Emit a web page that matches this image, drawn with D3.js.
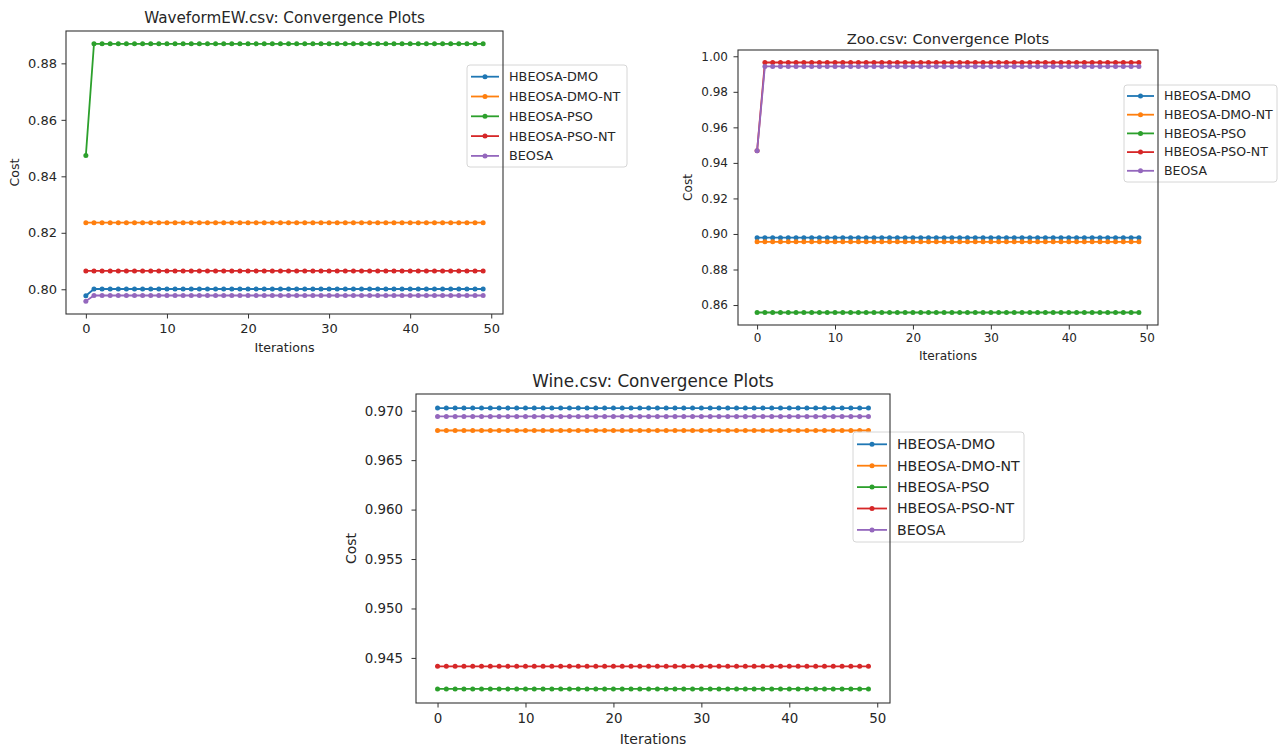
<!DOCTYPE html>
<html>
<head>
<meta charset="utf-8">
<script src="https://cdn.jsdelivr.net/npm/d3@7.9.0/dist/d3.min.js"></script>
<style>
  body { margin: 0; background: #fff; }
  svg text { font-family: "DejaVu Sans", sans-serif; fill: #262626; }
</style>
</head>
<body>
<svg id="chart" width="1284" height="746"></svg>
<script>
// ---- data ----
const seriesNames = ["HBEOSA-DMO", "HBEOSA-DMO-NT", "HBEOSA-PSO", "HBEOSA-PSO-NT", "BEOSA"];
const seriesColors = ["#1f77b4", "#ff7f0e", "#2ca02c", "#d62728", "#9467bd"];

const iterations = [0,1,2,3,4,5,6,7,8,9,10,11,12,13,14,15,16,17,18,19,20,21,22,23,24,
  25,26,27,28,29,30,31,32,33,34,35,36,37,38,39,40,41,42,43,44,45,46,47,48,49];
const xTicks = [0, 10, 20, 30, 40, 50];

// WaveformEW.csv
const waveDmo = [0.7977,0.8001,0.8001,0.8001,0.8001,0.8001,0.8001,0.8001,0.8001,0.8001,
  0.8001,0.8001,0.8001,0.8001,0.8001,0.8001,0.8001,0.8001,0.8001,0.8001,
  0.8001,0.8001,0.8001,0.8001,0.8001,0.8001,0.8001,0.8001,0.8001,0.8001,
  0.8001,0.8001,0.8001,0.8001,0.8001,0.8001,0.8001,0.8001,0.8001,0.8001,
  0.8001,0.8001,0.8001,0.8001,0.8001,0.8001,0.8001,0.8001,0.8001,0.8001];
const waveDmoNt = [0.8236,0.8236,0.8236,0.8236,0.8236,0.8236,0.8236,0.8236,0.8236,0.8236,
  0.8236,0.8236,0.8236,0.8236,0.8236,0.8236,0.8236,0.8236,0.8236,0.8236,
  0.8236,0.8236,0.8236,0.8236,0.8236,0.8236,0.8236,0.8236,0.8236,0.8236,
  0.8236,0.8236,0.8236,0.8236,0.8236,0.8236,0.8236,0.8236,0.8236,0.8236,
  0.8236,0.8236,0.8236,0.8236,0.8236,0.8236,0.8236,0.8236,0.8236,0.8236];
const wavePso = [0.8474,0.8869,0.8869,0.8869,0.8869,0.8869,0.8869,0.8869,0.8869,0.8869,
  0.8869,0.8869,0.8869,0.8869,0.8869,0.8869,0.8869,0.8869,0.8869,0.8869,
  0.8869,0.8869,0.8869,0.8869,0.8869,0.8869,0.8869,0.8869,0.8869,0.8869,
  0.8869,0.8869,0.8869,0.8869,0.8869,0.8869,0.8869,0.8869,0.8869,0.8869,
  0.8869,0.8869,0.8869,0.8869,0.8869,0.8869,0.8869,0.8869,0.8869,0.8869];
const wavePsoNt = [0.8065,0.8065,0.8065,0.8065,0.8065,0.8065,0.8065,0.8065,0.8065,0.8065,
  0.8065,0.8065,0.8065,0.8065,0.8065,0.8065,0.8065,0.8065,0.8065,0.8065,
  0.8065,0.8065,0.8065,0.8065,0.8065,0.8065,0.8065,0.8065,0.8065,0.8065,
  0.8065,0.8065,0.8065,0.8065,0.8065,0.8065,0.8065,0.8065,0.8065,0.8065,
  0.8065,0.8065,0.8065,0.8065,0.8065,0.8065,0.8065,0.8065,0.8065,0.8065];
const waveBeosa = [0.7958,0.7978,0.7978,0.7978,0.7978,0.7978,0.7978,0.7978,0.7978,0.7978,
  0.7978,0.7978,0.7978,0.7978,0.7978,0.7978,0.7978,0.7978,0.7978,0.7978,
  0.7978,0.7978,0.7978,0.7978,0.7978,0.7978,0.7978,0.7978,0.7978,0.7978,
  0.7978,0.7978,0.7978,0.7978,0.7978,0.7978,0.7978,0.7978,0.7978,0.7978,
  0.7978,0.7978,0.7978,0.7978,0.7978,0.7978,0.7978,0.7978,0.7978,0.7978];
const waveYTicks = [0.80, 0.82, 0.84, 0.86, 0.88];

// Zoo.csv
const zooDmo = [0.8979,0.8979,0.8979,0.8979,0.8979,0.8979,0.8979,0.8979,0.8979,0.8979,
  0.8979,0.8979,0.8979,0.8979,0.8979,0.8979,0.8979,0.8979,0.8979,0.8979,
  0.8979,0.8979,0.8979,0.8979,0.8979,0.8979,0.8979,0.8979,0.8979,0.8979,
  0.8979,0.8979,0.8979,0.8979,0.8979,0.8979,0.8979,0.8979,0.8979,0.8979,
  0.8979,0.8979,0.8979,0.8979,0.8979,0.8979,0.8979,0.8979,0.8979,0.8979];
const zooDmoNt = [0.8956,0.8956,0.8956,0.8956,0.8956,0.8956,0.8956,0.8956,0.8956,0.8956,
  0.8956,0.8956,0.8956,0.8956,0.8956,0.8956,0.8956,0.8956,0.8956,0.8956,
  0.8956,0.8956,0.8956,0.8956,0.8956,0.8956,0.8956,0.8956,0.8956,0.8956,
  0.8956,0.8956,0.8956,0.8956,0.8956,0.8956,0.8956,0.8956,0.8956,0.8956,
  0.8956,0.8956,0.8956,0.8956,0.8956,0.8956,0.8956,0.8956,0.8956,0.8956];
const zooPso = [0.8558,0.8558,0.8558,0.8558,0.8558,0.8558,0.8558,0.8558,0.8558,0.8558,
  0.8558,0.8558,0.8558,0.8558,0.8558,0.8558,0.8558,0.8558,0.8558,0.8558,
  0.8558,0.8558,0.8558,0.8558,0.8558,0.8558,0.8558,0.8558,0.8558,0.8558,
  0.8558,0.8558,0.8558,0.8558,0.8558,0.8558,0.8558,0.8558,0.8558,0.8558,
  0.8558,0.8558,0.8558,0.8558,0.8558,0.8558,0.8558,0.8558,0.8558,0.8558];
const zooPsoNt = [0.9468,0.9965,0.9965,0.9965,0.9965,0.9965,0.9965,0.9965,0.9965,0.9965,
  0.9965,0.9965,0.9965,0.9965,0.9965,0.9965,0.9965,0.9965,0.9965,0.9965,
  0.9965,0.9965,0.9965,0.9965,0.9965,0.9965,0.9965,0.9965,0.9965,0.9965,
  0.9965,0.9965,0.9965,0.9965,0.9965,0.9965,0.9965,0.9965,0.9965,0.9965,
  0.9965,0.9965,0.9965,0.9965,0.9965,0.9965,0.9965,0.9965,0.9965,0.9965];
const zooBeosa = [0.9468,0.9943,0.9943,0.9943,0.9943,0.9943,0.9943,0.9943,0.9943,0.9943,
  0.9943,0.9943,0.9943,0.9943,0.9943,0.9943,0.9943,0.9943,0.9943,0.9943,
  0.9943,0.9943,0.9943,0.9943,0.9943,0.9943,0.9943,0.9943,0.9943,0.9943,
  0.9943,0.9943,0.9943,0.9943,0.9943,0.9943,0.9943,0.9943,0.9943,0.9943,
  0.9943,0.9943,0.9943,0.9943,0.9943,0.9943,0.9943,0.9943,0.9943,0.9943];
const zooYTicks = [0.86, 0.88, 0.90, 0.92, 0.94, 0.96, 0.98, 1.00];

// Wine.csv
const wineDmo = [0.97027,0.97027,0.97027,0.97027,0.97027,0.97027,0.97027,0.97027,0.97027,0.97027,
  0.97027,0.97027,0.97027,0.97027,0.97027,0.97027,0.97027,0.97027,0.97027,0.97027,
  0.97027,0.97027,0.97027,0.97027,0.97027,0.97027,0.97027,0.97027,0.97027,0.97027,
  0.97027,0.97027,0.97027,0.97027,0.97027,0.97027,0.97027,0.97027,0.97027,0.97027,
  0.97027,0.97027,0.97027,0.97027,0.97027,0.97027,0.97027,0.97027,0.97027,0.97027];
const wineDmoNt = [0.96800,0.96800,0.96800,0.96800,0.96800,0.96800,0.96800,0.96800,0.96800,0.96800,
  0.96800,0.96800,0.96800,0.96800,0.96800,0.96800,0.96800,0.96800,0.96800,0.96800,
  0.96800,0.96800,0.96800,0.96800,0.96800,0.96800,0.96800,0.96800,0.96800,0.96800,
  0.96800,0.96800,0.96800,0.96800,0.96800,0.96800,0.96800,0.96800,0.96800,0.96800,
  0.96800,0.96800,0.96800,0.96800,0.96800,0.96800,0.96800,0.96800,0.96800,0.96800];
const winePso = [0.94186,0.94186,0.94186,0.94186,0.94186,0.94186,0.94186,0.94186,0.94186,0.94186,
  0.94186,0.94186,0.94186,0.94186,0.94186,0.94186,0.94186,0.94186,0.94186,0.94186,
  0.94186,0.94186,0.94186,0.94186,0.94186,0.94186,0.94186,0.94186,0.94186,0.94186,
  0.94186,0.94186,0.94186,0.94186,0.94186,0.94186,0.94186,0.94186,0.94186,0.94186,
  0.94186,0.94186,0.94186,0.94186,0.94186,0.94186,0.94186,0.94186,0.94186,0.94186];
const winePsoNt = [0.94415,0.94415,0.94415,0.94415,0.94415,0.94415,0.94415,0.94415,0.94415,0.94415,
  0.94415,0.94415,0.94415,0.94415,0.94415,0.94415,0.94415,0.94415,0.94415,0.94415,
  0.94415,0.94415,0.94415,0.94415,0.94415,0.94415,0.94415,0.94415,0.94415,0.94415,
  0.94415,0.94415,0.94415,0.94415,0.94415,0.94415,0.94415,0.94415,0.94415,0.94415,
  0.94415,0.94415,0.94415,0.94415,0.94415,0.94415,0.94415,0.94415,0.94415,0.94415];
const wineBeosa = [0.96942,0.96942,0.96942,0.96942,0.96942,0.96942,0.96942,0.96942,0.96942,0.96942,
  0.96942,0.96942,0.96942,0.96942,0.96942,0.96942,0.96942,0.96942,0.96942,0.96942,
  0.96942,0.96942,0.96942,0.96942,0.96942,0.96942,0.96942,0.96942,0.96942,0.96942,
  0.96942,0.96942,0.96942,0.96942,0.96942,0.96942,0.96942,0.96942,0.96942,0.96942,
  0.96942,0.96942,0.96942,0.96942,0.96942,0.96942,0.96942,0.96942,0.96942,0.96942];
const wineYTicks = [0.945, 0.950, 0.955, 0.960, 0.965, 0.970];

// ---- drawing ----
const svg = d3.select("#chart");

// matplotlib style 5% margins on data extent
function padded(ext) {
  const p = (ext[1] - ext[0]) * 0.05;
  return [ext[0] - p, ext[1] + p];
}

function drawPanel(cfg) {
  const { left, top, right, bottom } = cfg.box;
  const g = svg.append("g").attr("class", "panel");

  const allVals = cfg.series.flat();
  const x = d3.scaleLinear().domain(padded(d3.extent(iterations))).range([left, right]);
  const y = d3.scaleLinear().domain(padded(d3.extent(allVals))).range([bottom, top]);

  // x axis
  const xa = g.append("g")
    .attr("transform", `translate(0,${bottom})`)
    .call(d3.axisBottom(x).tickValues(xTicks).tickFormat(d3.format("d")).tickSize(4.5).tickPadding(cfg.xPad));
  // y axis
  const ya = g.append("g")
    .attr("transform", `translate(${left},0)`)
    .call(d3.axisLeft(y).tickValues(cfg.yTicks).tickFormat(d3.format(cfg.yFmt)).tickSize(4.5).tickPadding(cfg.yPad));
  [xa, ya].forEach(a => {
    a.select(".domain").remove();
    a.selectAll("line").attr("stroke", "#333").attr("stroke-width", 1);
    a.selectAll("text").style("font-size", cfg.tickFont + "px").attr("fill", "#262626")
      .style("font-family", '"DejaVu Sans", sans-serif');
  });

  // lines + markers
  const line = d3.line().x((d, i) => x(iterations[i])).y(d => y(d));
  cfg.series.forEach((vals, k) => {
    g.append("path")
      .attr("d", line(vals))
      .attr("fill", "none")
      .attr("stroke", seriesColors[k])
      .attr("stroke-width", 1.8);
    g.selectAll(null)
      .data(vals)
      .enter()
      .append("circle")
      .attr("cx", (d, i) => x(iterations[i]))
      .attr("cy", d => y(d))
      .attr("r", 2.5)
      .attr("fill", seriesColors[k]);
  });

  // legend
  const L = cfg.legend;
  const lg = g.append("g");
  lg.append("rect")
    .attr("x", L.x).attr("y", L.y).attr("width", L.w).attr("height", L.h)
    .attr("rx", 3)
    .attr("fill", "#fff").attr("fill-opacity", 0.8)
    .attr("stroke", "#d6d6d6").attr("stroke-width", 1);
  seriesNames.forEach((name, k) => {
    const ry = L.row0 + k * L.step;
    lg.append("line")
      .attr("x1", L.hx0).attr("x2", L.hx1).attr("y1", ry).attr("y2", ry)
      .attr("stroke", seriesColors[k]).attr("stroke-width", 1.8);
    lg.append("circle")
      .attr("cx", (L.hx0 + L.hx1) / 2).attr("cy", ry).attr("r", 2.5)
      .attr("fill", seriesColors[k]);
    lg.append("text")
      .attr("x", L.tx).attr("y", ry).attr("dy", "0.35em")
      .style("font-size", L.font + "px")
      .text(name);
  });

  // frame (all four spines)
  g.append("rect")
    .attr("x", left).attr("y", top)
    .attr("width", right - left).attr("height", bottom - top)
    .attr("fill", "none").attr("stroke", "#333").attr("stroke-width", 1.1);

  // title & labels
  g.append("text")
    .attr("x", (left + right) / 2).attr("y", cfg.titleY).attr("dy", "0.35em")
    .attr("text-anchor", "middle")
    .style("font-size", cfg.titleFont + "px")
    .text(cfg.title);
  g.append("text")
    .attr("x", (left + right) / 2).attr("y", cfg.xLabelY).attr("dy", "0.35em")
    .attr("text-anchor", "middle")
    .style("font-size", cfg.labelFont + "px")
    .text("Iterations");
  g.append("text")
    .attr("transform", `translate(${cfg.yLabelX},${(top + bottom) / 2}) rotate(-90)`)
    .attr("dy", "0.35em")
    .attr("text-anchor", "middle")
    .style("font-size", cfg.labelFont + "px")
    .text("Cost");
}

drawPanel({
  title: "WaveformEW.csv: Convergence Plots",
  series: [waveDmo, waveDmoNt, wavePso, wavePsoNt, waveBeosa],
  yTicks: waveYTicks, yFmt: ".2f",
  box: { left: 66, top: 31, right: 503, bottom: 314 },
  tickFont: 13, labelFont: 12.6, titleFont: 15.2,
  xPad: 5, yPad: 4.5,
  titleY: 18, xLabelY: 348, yLabelX: 15,
  legend: { x: 467, y: 65, w: 160, h: 102, hx0: 471, hx1: 499, tx: 509, row0: 76.7, step: 19.8, font: 12.8 }
});

drawPanel({
  title: "Zoo.csv: Convergence Plots",
  series: [zooDmo, zooDmoNt, zooPso, zooPsoNt, zooBeosa],
  yTicks: zooYTicks, yFmt: ".2f",
  box: { left: 738, top: 50, right: 1158, bottom: 325 },
  tickFont: 12, labelFont: 12.2, titleFont: 14.7,
  xPad: 4, yPad: 5.5,
  titleY: 39, xLabelY: 355.5, yLabelX: 688,
  legend: { x: 1124, y: 85, w: 153, h: 97, hx0: 1127, hx1: 1154, tx: 1164, row0: 96, step: 18.7, font: 12.5 }
});

drawPanel({
  title: "Wine.csv: Convergence Plots",
  series: [wineDmo, wineDmoNt, winePso, winePsoNt, wineBeosa],
  yTicks: wineYTicks, yFmt: ".3f",
  box: { left: 416, top: 394, right: 890, bottom: 703 },
  tickFont: 13.4, labelFont: 14, titleFont: 16.8,
  xPad: 6, yPad: 8.5,
  titleY: 381, xLabelY: 739, yLabelX: 351,
  legend: { x: 853, y: 432, w: 171, h: 110, hx0: 857, hx1: 887, tx: 897, row0: 444.3, step: 21.4, font: 14.1 }
});
</script>
</body>
</html>
